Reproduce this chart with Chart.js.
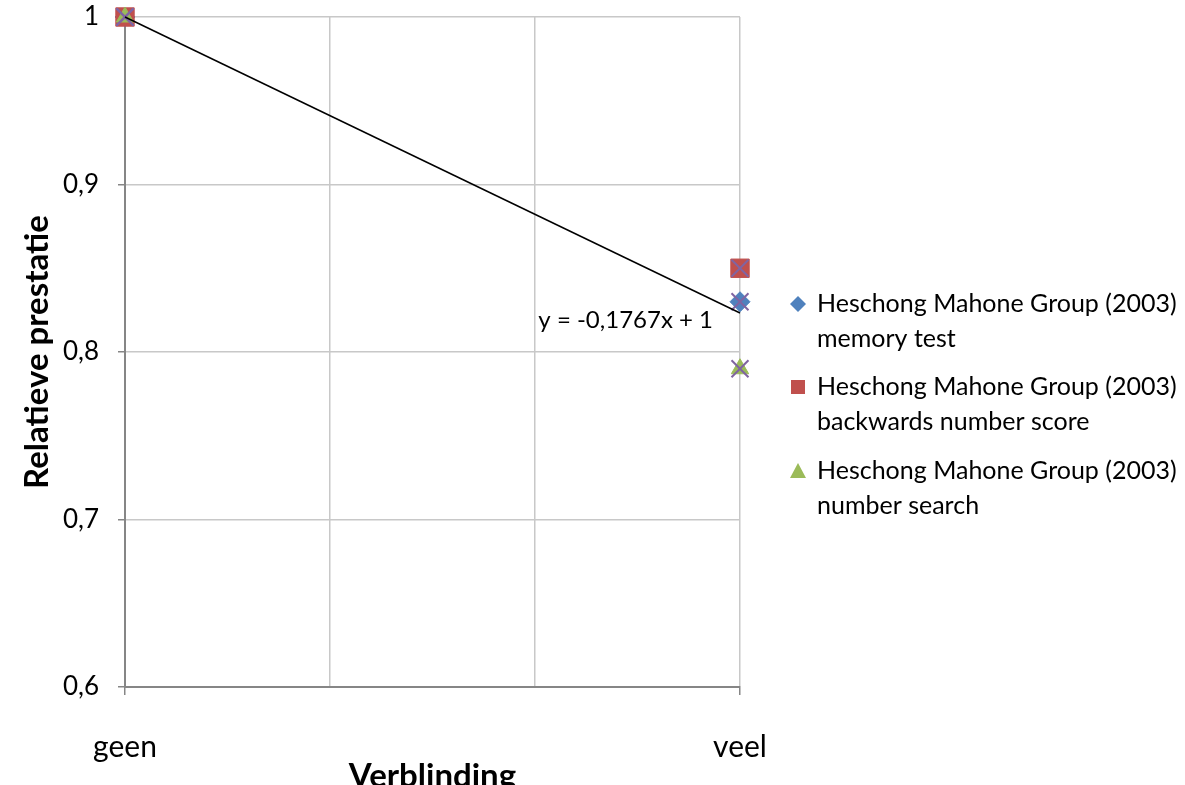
<!DOCTYPE html>
<html>
<head>
<meta charset="utf-8">
<script src="https://cdn.jsdelivr.net/npm/chart.js@4"></script>
<style>
  html, body { margin: 0; padding: 0; background: #fff; }
  #wrap { width: 1185px; height: 785px; }
</style>
</head>
<body>
<div id="wrap"><canvas id="glareChart" width="1185" height="785"></canvas></div>
<script>
// x: 0 = geen, 1 = veel
const xValues = [0, 1];
const xLabels = { 0: 'geen', 1: 'veel' };
const yTicks = [0.6, 0.7, 0.8, 0.9, 1];

const memoryTest = [1, 0.83];
const backwardsScore = [1, 0.85];
const numberSearch = [1, 0.79];

const trendSlope = -0.1767;
const trendIntercept = 1;
const trendText = 'y = -0,1767x + 1';

const seriesNames = [
  ['Heschong Mahone Group (2003)', 'memory test'],
  ['Heschong Mahone Group (2003)', 'backwards number score'],
  ['Heschong Mahone Group (2003)', 'number search']
];

const FONT = 'Lato';

function pts(vals) {
  return vals.map((v, i) => ({ x: xValues[i], y: v }));
}
const allPoints = pts(memoryTest).concat(pts(backwardsScore), pts(numberSearch));
const trendPoints = xValues.map(x => ({ x: x, y: trendIntercept + trendSlope * x }));

// legend + equation drawn on the canvas
const extras = {
  id: 'extras',
  afterDraw(chart) {
    const ctx = chart.ctx;
    ctx.save();
    ctx.fillStyle = '#000';
    ctx.textBaseline = 'middle';
    // trendline equation
    const xs = chart.scales.x, ys = chart.scales.y;
    const ex = xs.getPixelForValue(1), ey = ys.getPixelForValue(trendPoints[1].y);
    ctx.font = '24px "' + FONT + '"';
    ctx.textAlign = 'right';
    ctx.fillText(trendText, ex - 27, ey + 7);

    // legend
    ctx.font = '25px "' + FONT + '"';
    ctx.textAlign = 'left';
    const tops = [304, 387, 471];
    const styles = [
      { c: '#4F81BD', s: 'diamond' },
      { c: '#C0504D', s: 'square' },
      { c: '#9BBB59', s: 'triangle' }
    ];
    tops.forEach((y, i) => {
      const mx = 798;
      ctx.fillStyle = styles[i].c;
      ctx.beginPath();
      if (styles[i].s === 'diamond') {
        ctx.moveTo(mx, y - 8); ctx.lineTo(mx + 8, y); ctx.lineTo(mx, y + 8); ctx.lineTo(mx - 8, y);
      } else if (styles[i].s === 'square') {
        ctx.rect(mx - 7, y - 7, 14, 14);
      } else {
        ctx.moveTo(mx, y - 8); ctx.lineTo(mx + 8, y + 7); ctx.lineTo(mx - 8, y + 7);
      }
      ctx.closePath();
      ctx.fill();
      ctx.fillStyle = '#000';
      ctx.fillText(seriesNames[i][0], 817, y);
      ctx.fillText(seriesNames[i][1], 817, y + 35);
    });
    ctx.restore();
  }
};

new Chart(document.getElementById('glareChart'), {
  type: 'scatter',
  data: {
    datasets: [
      {
        label: 'trend',
        type: 'line',
        data: trendPoints,
        borderColor: '#000',
        borderWidth: 1.5,
        pointRadius: 0,
        fill: false,
        clip: false,
        order: 0
      },
      {
        label: 'all',
        data: allPoints,
        pointStyle: 'crossRot',
        pointRadius: 12,
        borderColor: '#8064A2',
        borderWidth: 2,
        clip: false,
        order: 1
      },
      {
        label: 'number search',
        data: pts(numberSearch),
        pointStyle: 'triangle',
        pointRadius: 10,
        backgroundColor: '#9BBB59',
        borderColor: '#9BBB59',
        borderWidth: 1,
        clip: false,
        order: 2
      },
      {
        label: 'backwards',
        data: pts(backwardsScore),
        pointStyle: 'rect',
        pointRadius: 13,
        backgroundColor: '#C0504D',
        borderColor: '#C0504D',
        borderWidth: 1,
        clip: false,
        order: 3
      },
      {
        label: 'memory',
        data: pts(memoryTest),
        pointStyle: 'rectRot',
        pointRadius: 10,
        backgroundColor: '#4F81BD',
        borderColor: '#4F81BD',
        borderWidth: 1,
        clip: false,
        order: 4
      }
    ]
  },
  options: {
    responsive: false,
    animation: false,
    layout: { padding: { left: 0, top: 17, right: 445, bottom: 0 } },
    plugins: {
      legend: { display: false },
      tooltip: { enabled: false }
    },
    scales: {
      x: {
        type: 'linear',
        min: 0,
        max: 1,
        afterFit(scale) { scale.height = 98; },
        afterBuildTicks(scale) {
          scale.ticks = [0, 1 / 3, 2 / 3, 1].map(v => ({ value: v }));
        },
        ticks: {
          padding: 34,
          maxRotation: 0,
          autoSkip: false,
          color: '#000',
          font: { family: FONT, size: 30 },
          callback: v => xLabels[v] !== undefined ? xLabels[v] : ''
        },
        grid: {
          color: '#C8C8C8',
          lineWidth: 1.5,
          tickLength: 8,
          tickColor: ctx => (ctx.tick && (ctx.tick.value === 0 || ctx.tick.value === 1)) ? '#868686' : 'rgba(0,0,0,0)'
        },
        border: { color: '#868686', width: 2 },
        title: {
          display: true,
          text: 'Verblinding',
          color: '#000',
          font: { family: FONT, size: 33, weight: 'bold' },
          padding: { top: 0, bottom: -11 }
        }
      },
      y: {
        min: 0.6,
        max: 1,
        afterFit(scale) {
          scale.width = 125;
          scale.paddingTop = 0;
          scale.paddingBottom = 0;
        },
        afterBuildTicks(scale) {
          scale.ticks = yTicks.map(v => ({ value: v }));
        },
        ticks: {
          padding: 19,
          color: '#000',
          font: { family: FONT, size: 26 },
          callback: v => String(Math.round(v * 10) / 10).replace('.', ',')
        },
        grid: {
          color: '#C8C8C8',
          lineWidth: 1.5,
          tickLength: 7,
          tickColor: '#868686'
        },
        border: { color: '#868686', width: 2 },
        title: {
          display: true,
          text: 'Relatieve prestatie',
          color: '#000',
          font: { family: FONT, size: 33, weight: 'bold' },
          padding: { top: 18, bottom: 0 }
        }
      }
    }
  },
  plugins: [extras]
});
</script>
</body>
</html>
